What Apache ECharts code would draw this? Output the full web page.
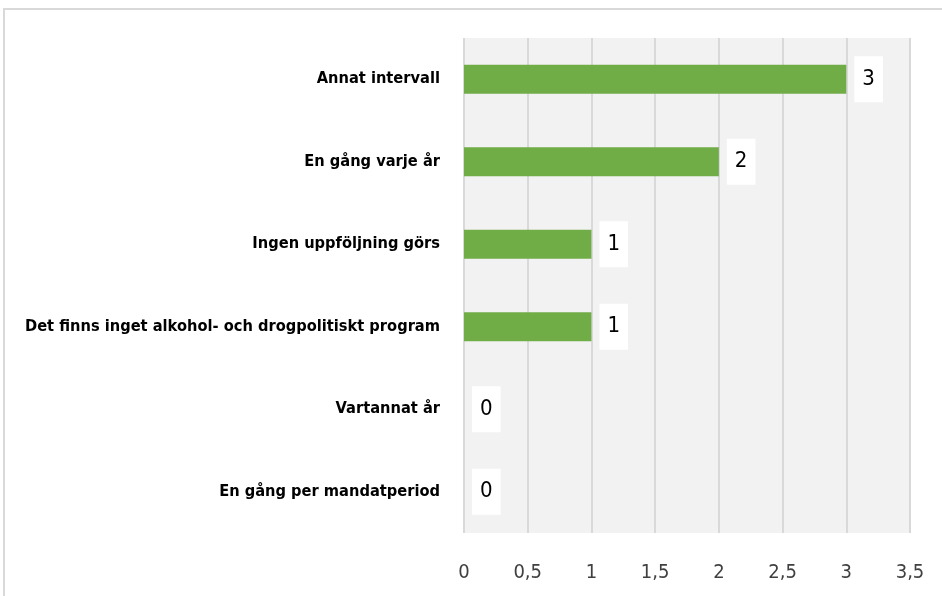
<!DOCTYPE html>
<html>
<head>
<meta charset="utf-8">
<style>
  html, body { margin: 0; padding: 0; background: #fff; }
  #chart { width: 942px; height: 596px; }
</style>
</head>
<body>
<div id="chart"></div>
<script src="https://cdn.jsdelivr.net/npm/echarts@6/dist/echarts.min.js"></script>
<script type="text/javascript">
// categories bottom -> top
var categories = ['En gång per mandatperiod', 'Vartannat år', 'Det finns inget alkohol- och drogpolitiskt program',
                  'Ingen uppföljning görs', 'En gång varje år', 'Annat intervall'];
var values = [0, 0, 1, 1, 2, 3];
var axisMax = 3.5;
var axisStep = 0.5;

var condFont = '"DejaVu Sans Condensed", "Liberation Sans Narrow", sans-serif';

var myChart = echarts.init(document.getElementById('chart'));

var option = {
    animation: false,
    graphic: [
        {
            type: 'rect',
            shape: { x: 4, y: 9, width: 1000, height: 1000 },
            style: { fill: 'none', stroke: '#d9d9d9', lineWidth: 2 },
            silent: true
        }
    ],
    grid: {
        left: 464,
        right: 32,
        top: 38,
        bottom: 63,
        show: true,
        backgroundColor: '#f2f2f2',
        borderWidth: 0
    },
    xAxis: {
        type: 'value',
        min: 0,
        max: axisMax,
        interval: axisStep,
        axisLine: { show: false },
        axisTick: { show: false },
        splitLine: { show: true, lineStyle: { color: '#d9d9d9', width: 2 } },
        axisLabel: {
            margin: 30,
            fontFamily: condFont,
            fontSize: 20,
            color: '#404040',
            formatter: function (v) { return String(v).replace('.', ','); }
        }
    },
    yAxis: {
        type: 'category',
        data: categories,
        axisLine: { show: false },
        axisTick: { show: false },
        axisLabel: {
            margin: 24,
            fontFamily: condFont,
            fontWeight: 'bold',
            fontSize: 16.3,
            color: '#000'
        }
    },
    series: [
        {
            type: 'bar',
            data: values,
            barWidth: '35%',
            itemStyle: { color: '#70ad47' },
            label: {
                show: true,
                position: 'right',
                distance: 8,
                backgroundColor: '#fff',
                padding: [13, 8, 11, 8],
                fontFamily: condFont,
                fontSize: 22,
                color: '#000'
            }
        }
    ]
};
myChart.setOption(option);
</script>
</body>
</html>
